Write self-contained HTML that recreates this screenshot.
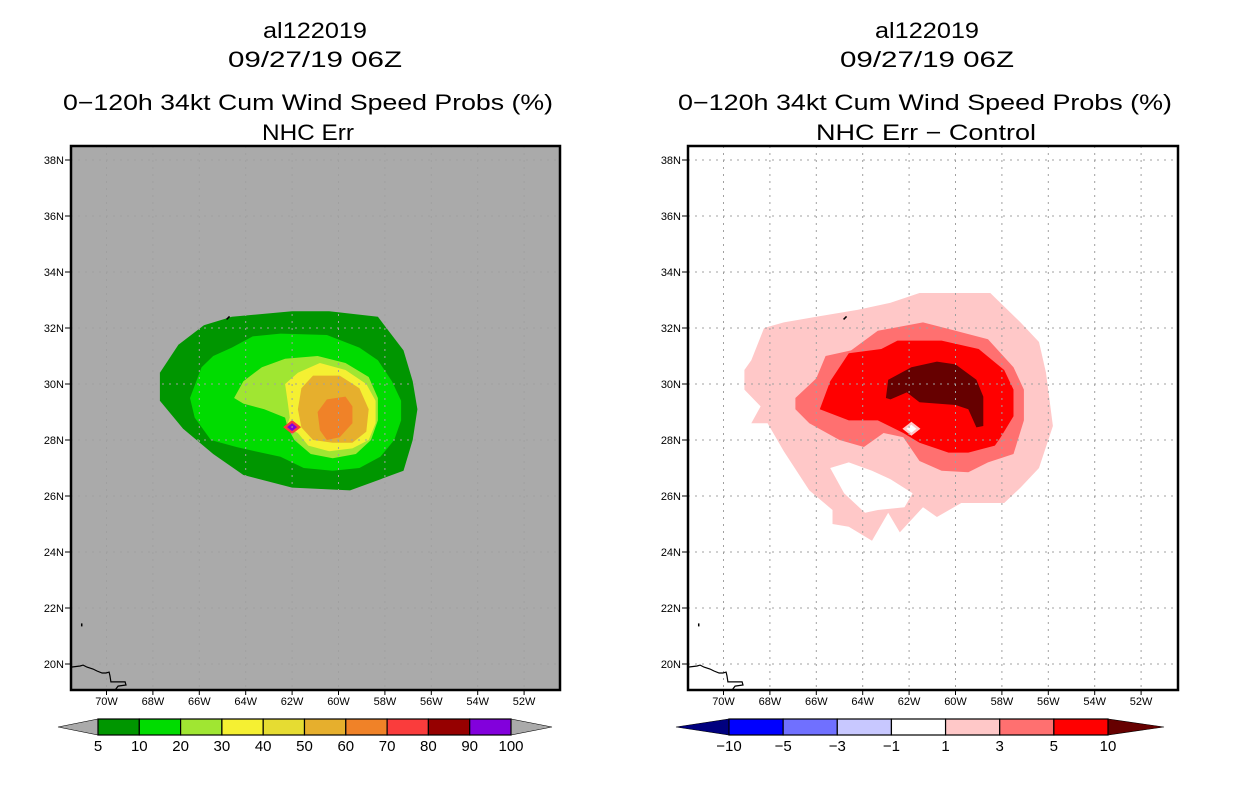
<!DOCTYPE html>
<html><head><meta charset="utf-8"><style>
html,body{margin:0;padding:0;background:#fff}
svg text{font-family:"Liberation Sans","DejaVu Sans",sans-serif;fill:#000}
</style></head><body>
<svg id="chart" width="1236" height="800" viewBox="0 0 1236 800" xmlns="http://www.w3.org/2000/svg">
<g id="titles">
<text x="315" y="38" font-size="22" text-anchor="middle" textLength="104" lengthAdjust="spacingAndGlyphs">al122019</text>
<text x="315" y="67" font-size="22" text-anchor="middle" textLength="174" lengthAdjust="spacingAndGlyphs">09/27/19 06Z</text>
<text x="308" y="110" font-size="22" text-anchor="middle" textLength="490" lengthAdjust="spacingAndGlyphs">0−120h 34kt Cum Wind Speed Probs (%)</text>
<text x="308" y="140" font-size="22" text-anchor="middle" textLength="92" lengthAdjust="spacingAndGlyphs">NHC Err</text>
<text x="927" y="38" font-size="22" text-anchor="middle" textLength="104" lengthAdjust="spacingAndGlyphs">al122019</text>
<text x="927" y="67" font-size="22" text-anchor="middle" textLength="174" lengthAdjust="spacingAndGlyphs">09/27/19 06Z</text>
<text x="925" y="110" font-size="22" text-anchor="middle" textLength="494" lengthAdjust="spacingAndGlyphs">0−120h 34kt Cum Wind Speed Probs (%)</text>
<text x="926" y="140" font-size="22" text-anchor="middle" textLength="220" lengthAdjust="spacingAndGlyphs">NHC Err − Control</text>
</g>
<defs>
<clipPath id="clipL"><rect x="71" y="146" width="489" height="544"/></clipPath>
<clipPath id="clipR"><rect x="688" y="146" width="490" height="544"/></clipPath>
</defs>
<g id="left"></g>
<g id="right"></g>
<g id="cbars"></g>
</svg>
<script>
// ---- data ----
const lonTicks = [-70,-68,-66,-64,-62,-60,-58,-56,-54,-52];
const latTicks = [20,22,24,26,28,30,32,34,36,38];
const lonLabels = ["70W","68W","66W","64W","62W","60W","58W","56W","54W","52W"];
const latLabels = ["20N","22N","24N","26N","28N","30N","32N","34N","36N","38N"];

const probLevels = ["5","10","20","30","40","50","60","70","80","90","100"];
const probColors = ["#009600","#00dc00","#a0e632","#f5f032","#e6dc32","#e6af2d","#f08228","#fa3c3c","#960000","#8200dc"];
const diffLevels = ["−10","−5","−3","−1","1","3","5","10"];
const diffColors = ["#0000ff","#7070ff","#c8c8ff","#ffffff","#ffc8c8","#ff7070","#ff0000"];

const prob5 = [[-67.7,30.4],[-66.9,31.4],[-65.8,32.1],[-64.6,32.4],[-62.0,32.6],[-60.4,32.6],[-58.3,32.4],[-57.2,31.2],[-56.8,30.1],[-56.6,29.1],[-56.8,28.0],[-57.2,26.9],[-59.5,26.2],[-62.0,26.3],[-64.1,26.75],[-65.4,27.5],[-66.7,28.4],[-67.7,29.4]];
const prob10 = [[-66.4,29.5],[-65.9,30.6],[-65.4,31.0],[-64.6,31.3],[-63.7,31.7],[-62.5,31.8],[-60.5,31.75],[-59.1,31.3],[-58.3,30.85],[-57.7,30.1],[-57.3,29.4],[-57.3,28.7],[-57.6,28.0],[-58.2,27.4],[-59.1,27.0],[-60.25,26.9],[-61.5,27.0],[-62.5,27.4],[-63.6,27.6],[-64.4,27.75],[-65.5,28.0],[-66.2,28.8]];
const prob20 = [[-64.5,29.5],[-64.1,30.1],[-63.3,30.6],[-62.3,30.9],[-60.9,31.0],[-59.7,30.75],[-58.7,30.25],[-58.3,29.5],[-58.3,28.7],[-58.6,28.0],[-59.25,27.5],[-60.25,27.35],[-61.2,27.5],[-61.9,28.0],[-62.2,28.45],[-62.3,28.8],[-63.2,29.1],[-64.1,29.3]];
const prob30 = [[-62.3,30.0],[-61.75,30.4],[-60.8,30.75],[-59.7,30.5],[-58.8,30.0],[-58.4,29.4],[-58.4,28.6],[-58.7,28.0],[-59.4,27.7],[-60.4,27.6],[-61.3,27.8],[-61.75,28.25],[-62.25,28.45],[-62.1,28.8],[-62.2,29.4]];
const prob50 = [[-61.6,29.85],[-61.1,30.3],[-59.95,30.3],[-59.1,29.85],[-58.7,29.1],[-58.8,28.3],[-59.4,27.9],[-60.25,27.9],[-61.1,28.0],[-61.6,28.45],[-61.75,29.1]];
const prob60 = [[-60.9,29.0],[-60.5,29.45],[-59.7,29.55],[-59.4,29.2],[-59.4,28.6],[-59.95,28.1],[-60.5,28.0],[-60.8,28.35]];
const probPeak = [-62.0,28.46];

const diff1 = [[-69.1,30.5],[-68.8,30.85],[-68.25,32.0],[-67.4,32.2],[-66.0,32.4],[-64.2,32.65],[-62.8,32.9],[-61.55,33.25],[-58.5,33.25],[-57.2,32.2],[-56.4,31.5],[-56.1,30.4],[-55.8,28.5],[-56.4,27.0],[-57.2,26.3],[-57.9,25.75],[-59.75,25.75],[-60.8,25.25],[-61.4,25.6],[-62.4,24.7],[-62.9,25.4],[-63.6,24.4],[-64.6,24.9],[-65.3,25.0],[-65.3,25.5],[-66.3,26.2],[-67.4,27.6],[-68.1,28.6],[-68.8,28.6],[-68.4,29.2],[-69.1,29.8]];
const diffHole = [[-65.4,27.0],[-64.6,27.2],[-63.6,26.9],[-62.8,26.6],[-61.85,26.1],[-62.2,25.6],[-63.35,25.5],[-63.9,25.4],[-64.8,26.1]];
const diff3 = [[-66.9,29.5],[-66.0,30.2],[-65.6,31.0],[-64.5,31.2],[-63.35,31.9],[-61.4,32.2],[-60.0,31.9],[-58.6,31.6],[-57.5,30.6],[-57.05,29.8],[-57.05,28.7],[-57.5,27.5],[-58.6,27.2],[-59.45,26.85],[-60.6,26.9],[-61.55,27.25],[-62.25,28.1],[-63.1,28.25],[-63.95,27.75],[-65.0,28.0],[-66.3,28.6],[-66.9,29.1]];
const diff5 = [[-65.85,29.1],[-65.4,30.1],[-64.6,31.1],[-63.2,31.25],[-62.5,31.55],[-60.6,31.55],[-59.0,31.25],[-57.9,30.5],[-57.5,29.8],[-57.5,28.85],[-58.05,28.1],[-58.3,27.8],[-59.45,27.55],[-60.3,27.55],[-61.55,27.9],[-62.25,28.25],[-63.35,28.7],[-64.6,28.7]];
const diff10 = [[-63.0,29.5],[-62.9,30.15],[-61.9,30.6],[-60.8,30.8],[-60.0,30.7],[-59.1,30.15],[-58.8,29.55],[-58.8,28.5],[-59.1,28.45],[-59.45,29.1],[-60.0,29.25],[-61.55,29.35],[-62.1,29.7],[-62.8,29.45]];
const diffPeak = [-61.9,28.4];

const coast = [[-71.53,19.89],[-71.14,19.93],[-71.01,19.96],[-70.84,19.89],[-70.58,19.82],[-70.41,19.75],[-70.19,19.68],[-70.02,19.68],[-69.89,19.71],[-69.85,19.57],[-69.81,19.36],[-69.5,19.36],[-69.2,19.36],[-69.16,19.25],[-69.5,19.21],[-69.63,19.07]];
const bermuda = [-64.76,32.36];
const islet = [-71.1,21.45];

// ---- drawing ----
const NS="http://www.w3.org/2000/svg";
function mk(tag,attrs,parent){const e=document.createElementNS(NS,tag);for(const k in attrs)e.setAttribute(k,attrs[k]);parent.appendChild(e);return e;}
function panel(gid,x0,fr,bg,clip,layers,peak,peakColors){
  const g=document.getElementById(gid);
  const X=lon=>x0+23.2*(lon+70);
  const Y=lat=>384+(30-lat)*28;
  const pts=a=>a.map(p=>X(p[0]).toFixed(1)+","+Y(p[1]).toFixed(1)).join(" ");
  const bgR=mk('rect',{x:fr[0],y:fr[1],width:fr[2]-fr[0],height:fr[3]-fr[1],fill:bg},g);
  
  
  const cg=mk('g',{'clip-path':'url(#'+clip+')'},g);
  
  
  layers.forEach(L=>{
    const p=mk('polygon',{points:pts(L[0]),fill:L[1]},cg);
    
    
  });
  const px=X(peak[0]),py=Y(peak[1]);
  const d1=mk('polygon',{points:`${px-9},${py} ${px},${py-7} ${px+9},${py} ${px},${py+7}`,fill:peakColors[0]},cg);
  
  
  const d2=mk('polygon',{points:`${px-5},${py} ${px},${py-4} ${px+5},${py} ${px},${py+4}`,fill:peakColors[1]},cg);
  
  
  lonTicks.forEach((lon,i)=>{
    const l=mk('line',{x1:X(lon),x2:X(lon),y1:fr[1],y2:fr[3],stroke:'#a0a0a0','stroke-width':1,'stroke-dasharray':'2,5'},g);
    
    
    const t=mk('line',{x1:X(lon),x2:X(lon),y1:fr[3],y2:fr[3]+5,stroke:'#000','stroke-width':1},g);
    
    
    const tx=mk('text',{x:X(lon),y:fr[3]+15,'font-size':11,'text-anchor':'middle'},g);
    tx.textContent=lonLabels[i];
    
    
  });
  latTicks.forEach((lat,i)=>{
    const l=mk('line',{x1:fr[0],x2:fr[2],y1:Y(lat),y2:Y(lat),stroke:'#a0a0a0','stroke-width':1,'stroke-dasharray':'2,5'},g);
    
    
    const t=mk('line',{x1:fr[0]-6,x2:fr[0],y1:Y(lat),y2:Y(lat),stroke:'#000','stroke-width':1},g);
    
    
    const tx=mk('text',{x:fr[0]-7,y:Y(lat)+4,'font-size':11,'text-anchor':'end'},g);
    tx.textContent=latLabels[i];
    
    
  });
  const cl=mk('polyline',{points:pts(coast),fill:'none',stroke:'#000','stroke-width':1.2,'clip-path':'url(#'+clip+')'},g);
  
  
  const b=mk('line',{x1:X(bermuda[0])-1.5,y1:Y(bermuda[1])+1.5,x2:X(bermuda[0])+1.5,y2:Y(bermuda[1])-1.5,stroke:'#000','stroke-width':1.5},g);
  
  
  const s=mk('rect',{x:X(islet[0]),y:Y(islet[1]),width:1.5,height:3,fill:'#000'},g);
  
  
  const f=mk('rect',{x:fr[0],y:fr[1],width:fr[2]-fr[0],height:fr[3]-fr[1],fill:'none',stroke:'#000','stroke-width':2.5},g);
  
  
}
panel('left',106.5,[71,146,560,690],'#aaaaaa','clipL',
  [[prob5,probColors[0],'5'],[prob10,probColors[1],'10'],[prob20,probColors[2],'20'],[prob30,probColors[3],'30'],[prob50,probColors[5],'50'],[prob60,probColors[6],'60']],
  probPeak,['#fa3c3c','#8200dc']);
panel('right',723.5,[688,146,1178,690],'#ffffff','clipR',
  [[diff1,diffColors[4],'1'],[diffHole,'#ffffff','hole'],[diff3,diffColors[5],'3'],[diff5,diffColors[6],'5'],[diff10,'#660000','10']],
  diffPeak,['#ffc8c8','#ffffff']);

function colorbar(x0,x1,tipL,tipR,colors,labels,triL,triR){
  const g=document.getElementById('cbars');
  const y0=719,y1=735,ym=727,n=colors.length,w=(x1-x0)/n;
  const tl=mk('polygon',{points:`${tipL},${ym} ${x0},${y0} ${x0},${y1}`,fill:triL,stroke:'#000','stroke-width':0.6},g);
  
  
  const tr=mk('polygon',{points:`${tipR},${ym} ${x1},${y0} ${x1},${y1}`,fill:triR,stroke:'#000','stroke-width':0.6},g);
  
  
  colors.forEach((c,i)=>{
    const r=mk('rect',{x:x0+i*w,y:y0,width:w,height:y1-y0,fill:c,stroke:'#000','stroke-width':1.2},g);
    
    
  });
  labels.forEach((l,i)=>{
    const t=mk('text',{x:x0+i*w,y:751,'font-size':15,'text-anchor':'middle'},g);
    t.textContent=l;
    
    
  });
}
colorbar(98,511,58,552,probColors,probLevels,'#aaaaaa','#aaaaaa');
colorbar(729,1108,676,1164,diffColors,diffLevels,'#00007f','#660000');
</script>
</body></html>
